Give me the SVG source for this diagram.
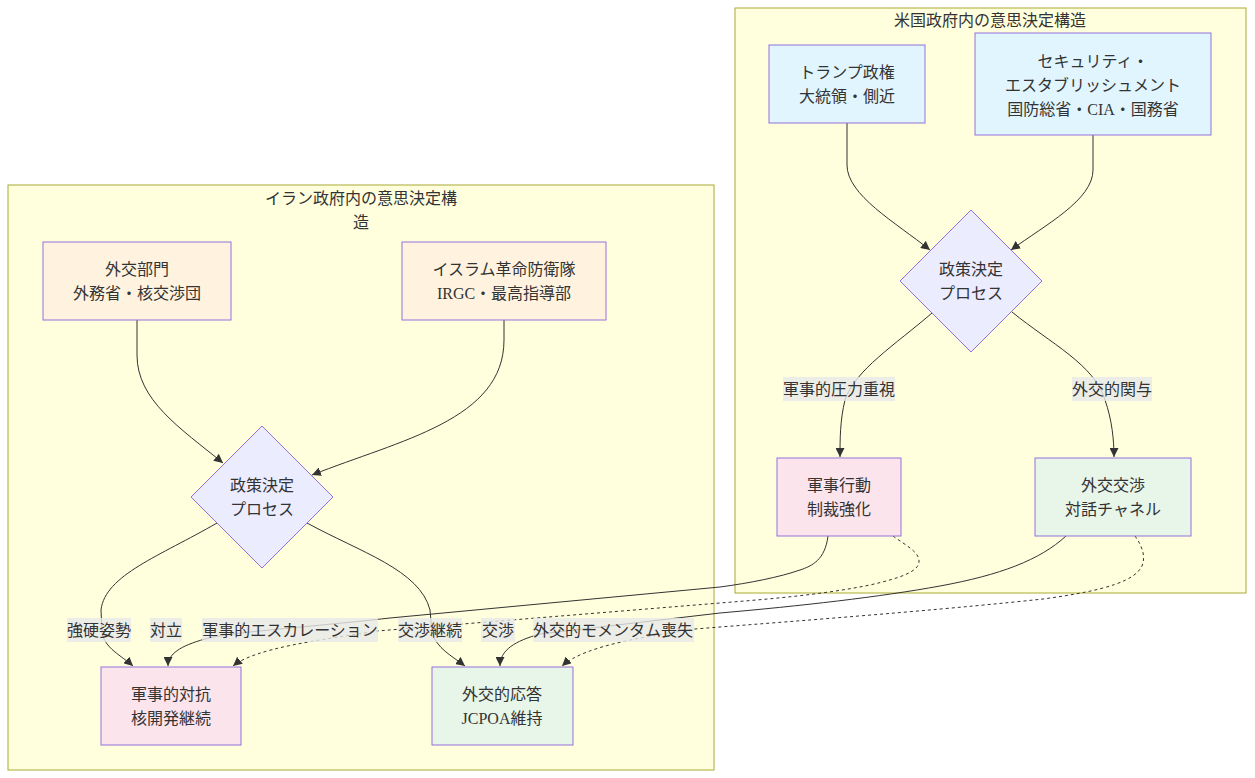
<svg xmlns="http://www.w3.org/2000/svg" width="1255" height="778" viewBox="0 0 1255 778">
<style>
text { font-family: "Liberation Serif", "Noto Sans CJK JP", serif; font-size: 16px; fill: #333; text-anchor: middle; dominant-baseline: central; }
.cluster { fill: #ffffde; stroke: #aaaa33; stroke-width: 1; }
.node { stroke: #9370DB; stroke-width: 1; }
.lead { fill: #e1f5fe; }
.iran { fill: #fff3e0; }
.mil { fill: #fce4ec; }
.dip { fill: #e8f5e9; }
.dec { fill: #ECECFF; }
.edge { fill: none; stroke: #333; stroke-width: 1; }
.dot { stroke-dasharray: 3 3; }
.lbl { fill: #e8e8e8; opacity: 0.8; }
</style>
<defs>
<marker id="arr" viewBox="0 0 10 10" refX="10" refY="5" markerWidth="9" markerHeight="9" markerUnits="userSpaceOnUse" orient="auto">
<path d="M0,0 L10,5 L0,10 z" fill="#333"/>
</marker>
</defs>
<rect width="1255" height="778" fill="#ffffff"/>

<g id="cluster-us">
<rect class="cluster" x="735" y="8" width="511" height="585"/>
<text x="990" y="20">米国政府内の意思決定構造</text>
</g>
<g id="cluster-iran">
<rect class="cluster" x="8" y="185" width="706" height="585"/>
<text x="361" y="198">イラン政府内の意思決定構</text>
<text x="361" y="222">造</text>
</g>

<g id="edges">
<path class="edge" marker-end="url(#arr)" d="M847,122 L847,165 C847,195 895,222 930,250"/>
<path class="edge" marker-end="url(#arr)" d="M1093,135 L1093,170 C1093,200 1045,225 1011,250"/>
<path class="edge" marker-end="url(#arr)" d="M932,313 C895,345 855,370 845,400 C840,420 840,440 840,457"/>
<path class="edge" marker-end="url(#arr)" d="M1012,312 C1050,343 1095,365 1105,400 C1112,420 1114,440 1114,457"/>
<path class="edge" marker-end="url(#arr)" d="M137,320 L137,355 C137,400 180,428 223,463"/>
<path class="edge" marker-end="url(#arr)" d="M504,320 L504,340 C504,420 400,440 312,475"/>
<path class="edge" marker-end="url(#arr)" d="M217,523 C160,556 105,575 101,610 L102,632 C104,648 122,656 133,666"/>
<path class="edge" marker-end="url(#arr)" d="M307,523 C360,552 420,570 430,610 L432,632 C436,648 452,656 465,666"/>
<path class="edge" marker-end="url(#arr)" d="M828,536 C825,560 812,566 800,570 C780,577 750,583 720,587 L390,618 C300,628 230,632 205,639 C180,646 168,654 168,666"/>
<path class="edge dot" marker-end="url(#arr)" d="M893,536 C905,545 920,552 919,562 C918,572 900,578 870,585 C820,595 770,599 720,603 L377,631 C320,640 255,648 233,666"/>
<path class="edge" marker-end="url(#arr)" d="M1066,536 C1040,560 1000,575 940,586 C880,597 800,606 720,613 L540,634 C515,641 500,650 500,666"/>
<path class="edge dot" marker-end="url(#arr)" d="M1135,536 C1142,546 1146,556 1142,566 C1135,580 1110,590 1043,599 C960,608 850,617 720,627 L695,629 C650,636 585,645 562,666"/>
</g>

<g id="edge-labels">
<rect class="lbl" x="783" y="377" width="112" height="24"/>
<text x="839" y="389">軍事的圧力重視</text>
<rect class="lbl" x="1072" y="377" width="80" height="24"/>
<text x="1112" y="389">外交的関与</text>
<rect class="lbl" x="67" y="618" width="64" height="24"/>
<text x="99" y="630">強硬姿勢</text>
<rect class="lbl" x="150" y="618" width="32" height="24"/>
<text x="166" y="630">対立</text>
<rect class="lbl" x="202" y="618" width="176" height="24"/>
<text x="290" y="630">軍事的エスカレーション</text>
<rect class="lbl" x="398" y="618" width="64" height="24"/>
<text x="430" y="630">交渉継続</text>
<rect class="lbl" x="481" y="618" width="34" height="24"/>
<text x="498" y="630">交渉</text>
<rect class="lbl" x="533" y="618" width="161" height="24"/>
<text x="613" y="630">外交的モメンタム喪失</text>
</g>

<g id="trump">
<rect class="node lead" x="769" y="45" width="156" height="78"/>
<text x="847" y="72">トランプ政権</text>
<text x="847" y="96">大統領・側近</text>
</g>
<g id="security">
<rect class="node lead" x="975" y="33" width="236" height="102"/>
<text x="1093" y="61">セキュリティ・</text>
<text x="1093" y="85">エスタブリッシュメント</text>
<text x="1093" y="109">国防総省・CIA・国務省</text>
</g>
<g id="us-decision">
<polygon class="node dec" points="971,210 1042,281 971,352 900,281"/>
<text x="971" y="269">政策決定</text>
<text x="971" y="293">プロセス</text>
</g>
<g id="us-military">
<rect class="node mil" x="777" y="458" width="124" height="78"/>
<text x="839" y="485">軍事行動</text>
<text x="839" y="509">制裁強化</text>
</g>
<g id="us-diplomacy">
<rect class="node dip" x="1035" y="458" width="156" height="78"/>
<text x="1113" y="485">外交交渉</text>
<text x="1113" y="509">対話チャネル</text>
</g>

<g id="iran-diplomacy-dept">
<rect class="node iran" x="43" y="242" width="188" height="78"/>
<text x="137" y="269">外交部門</text>
<text x="137" y="293">外務省・核交渉団</text>
</g>
<g id="irgc">
<rect class="node iran" x="402" y="242" width="204" height="78"/>
<text x="504" y="269">イスラム革命防衛隊</text>
<text x="504" y="293">IRGC・最高指導部</text>
</g>
<g id="iran-decision">
<polygon class="node dec" points="262,426 333,497 262,568 191,497"/>
<text x="262" y="485">政策決定</text>
<text x="262" y="509">プロセス</text>
</g>
<g id="iran-military">
<rect class="node mil" x="101" y="667" width="140" height="78"/>
<text x="171" y="694">軍事的対抗</text>
<text x="171" y="718">核開発継続</text>
</g>
<g id="iran-diplomacy">
<rect class="node dip" x="432" y="667" width="141" height="78"/>
<text x="502" y="694">外交的応答</text>
<text x="502" y="718">JCPOA維持</text>
</g>
</svg>
